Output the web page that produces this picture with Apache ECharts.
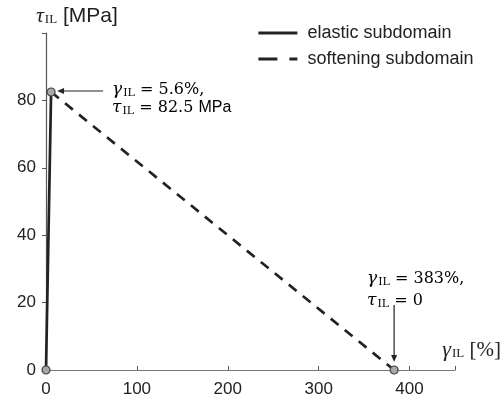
<!DOCTYPE html>
<html>
<head>
<meta charset="utf-8">
<script src="https://cdn.jsdelivr.net/npm/echarts@6/dist/echarts.min.js"></script>
<style>
html,body{margin:0;padding:0;background:#fff;}
#chart{width:504px;height:405px;}
</style>
</head>
<body>
<div id="chart"></div>
<script>
// Interlaminar shear traction–separation law: elastic and softening branches
const xTicks = [0, 100, 200, 300, 400];
const yTicks = [0, 20, 40, 60, 80];
const elasticPoints = [[0, 0], [5.6, 82.5]];
const softeningPoints = [[5.6, 82.5], [383, 0]];
const keyPoints = [[0, 0], [5.6, 82.5], [383, 0]];
const seriesNames = ['elastic subdomain', 'softening subdomain'];

const ink = '#222';
const grey = '#8c8c8c';
const serif = 'DejaVu Serif';
const sans = 'Liberation Sans';

const richSym = {
  g: { fontFamily: serif, fontStyle: 'italic', fontSize: 17, color: grey },
  s: { fontFamily: serif, fontSize: 11, color: grey, padding: [7, 0, 0, 1] },
  e: { fontFamily: serif, fontSize: 16, color: grey },
  m: { fontFamily: sans, fontSize: 16, color: grey }
};

const chart = echarts.init(document.getElementById('chart'));
chart.setOption({
  animation: false,
  grid: { left: 46, right: 47, top: 33, bottom: 35 },
  legend: {
    orient: 'vertical',
    left: 257,
    top: 24,
    padding: 0,
    itemWidth: 39,
    itemHeight: 14,
    itemGap: 8,
    data: [
      { name: seriesNames[0] },
      // the legend swatch shrinks its dash pattern, so the sample uses a longer one
      { name: seriesNames[1], lineStyle: { type: [19, 12] } }
    ],
    itemStyle: { opacity: 0 },
    lineStyle: { width: 2.8 },
    textStyle: { fontFamily: sans, fontSize: 18, color: ink, padding: [0, 0, 0, 5] }
  },
  xAxis: {
    type: 'value', min: 0, max: 450, interval: 100,
    name: '{t|γ}{s|IL}{u| [%]}',
    nameLocation: 'end', nameGap: 0,
    nameTextStyle: {
      align: 'right', verticalAlign: 'bottom', padding: [0, -46, 9, 0],
      rich: {
        t: { fontFamily: 'Liberation Serif', fontStyle: 'italic', fontSize: 22, color: ink },
        s: { fontFamily: 'Liberation Serif', fontSize: 13, color: ink, padding: [8, 0, 0, 1] },
        u: { fontFamily: 'Liberation Serif', fontSize: 21, color: ink }
      }
    },
    splitLine: { show: false },
    axisLine: { lineStyle: { color: '#777', width: 1.2 } },
    axisTick: { show: true, inside: true, length: 4, lineStyle: { color: '#555' } },
    axisLabel: {
      fontFamily: sans, fontSize: 17, color: ink, margin: 11,
      formatter: v => (xTicks.includes(v) ? String(v) : '')
    }
  },
  yAxis: {
    type: 'value', min: 0, max: 100, interval: 20,
    name: '{t|τ}{s|IL}{u| [MPa]}',
    nameLocation: 'end', nameGap: 6,
    nameTextStyle: {
      align: 'left', verticalAlign: 'bottom', padding: [0, 0, 0, -10],
      rich: {
        t: { fontFamily: 'Liberation Serif', fontStyle: 'italic', fontSize: 22, color: ink },
        s: { fontFamily: 'Liberation Serif', fontSize: 13, color: ink, padding: [8, 0, 0, 1] },
        u: { fontFamily: sans, fontSize: 21, color: ink }
      }
    },
    splitLine: { show: false },
    axisLine: { show: true, lineStyle: { color: '#555', width: 1.2 } },
    axisTick: { show: true, length: 4, lineStyle: { color: '#555' } },
    axisLabel: {
      fontFamily: sans, fontSize: 17, color: ink, margin: 10,
      formatter: v => (yTicks.includes(v) && v < 100 ? String(v) : '')
    }
  },
  series: [
    {
      name: seriesNames[0], type: 'line', data: elasticPoints,
      symbol: 'none', z: 3,
      lineStyle: { color: ink, width: 2.7 },
      itemStyle: { color: ink }
    },
    {
      name: seriesNames[1], type: 'line', data: softeningPoints,
      symbol: 'none', z: 3,
      lineStyle: { color: ink, width: 2.7, type: [10, 8] },
      itemStyle: { color: ink }
    },
    {
      type: 'scatter', data: keyPoints, symbolSize: 8, z: 5,
      itemStyle: { color: '#a8a8a8', borderColor: '#444', borderWidth: 1.2, opacity: 1 }
    }
  ]
});

// Callouts anchored to the peak and the failure point
const peak = chart.convertToPixel({ gridIndex: 0 }, keyPoints[1]);
const fail = chart.convertToPixel({ gridIndex: 0 }, keyPoints[2]);
const arrowHead = (x, y, dir) => {
  // small filled triangle; dir 'left' or 'down'
  const pts = dir === 'left'
    ? [[x, y], [x + 7, y - 3], [x + 7, y + 3]]
    : [[x, y], [x - 3, y - 7], [x + 3, y - 7]];
  return { type: 'polygon', shape: { points: pts }, style: { fill: ink }, z: 10 };
};
chart.setOption({
  graphic: [
    { type: 'line', shape: { x1: peak[0] + 52, y1: peak[1] - 1, x2: peak[0] + 10, y2: peak[1] - 1 },
      style: { stroke: ink, lineWidth: 1.2 }, z: 10 },
    arrowHead(peak[0] + 6, peak[1] - 1, 'left'),
    { type: 'text', x: peak[0] + 61, y: peak[1] - 11, z: 10,
      style: { text: '{g|γ}{s|IL}{e| = 5.6%,}\n{g|τ}{s|IL}{e| = 82.5 }{m|MPa}', rich: richSym,
               lineHeight: 18, verticalAlign: 'top' } },
    { type: 'line', shape: { x1: fail[0], y1: fail[1] - 65, x2: fail[0], y2: fail[1] - 14 },
      style: { stroke: ink, lineWidth: 1.2 }, z: 10 },
    arrowHead(fail[0], fail[1] - 8, 'down'),
    { type: 'text', x: fail[0] - 27, y: fail[1] - 102, z: 9,
      style: { text: '{g|γ}{s|IL}{e| = 383%,}\n{g|τ}{s|IL}{e| = 0}', rich: richSym,
               lineHeight: 22, verticalAlign: 'top' } }
  ]
});
</script>
</body>
</html>
